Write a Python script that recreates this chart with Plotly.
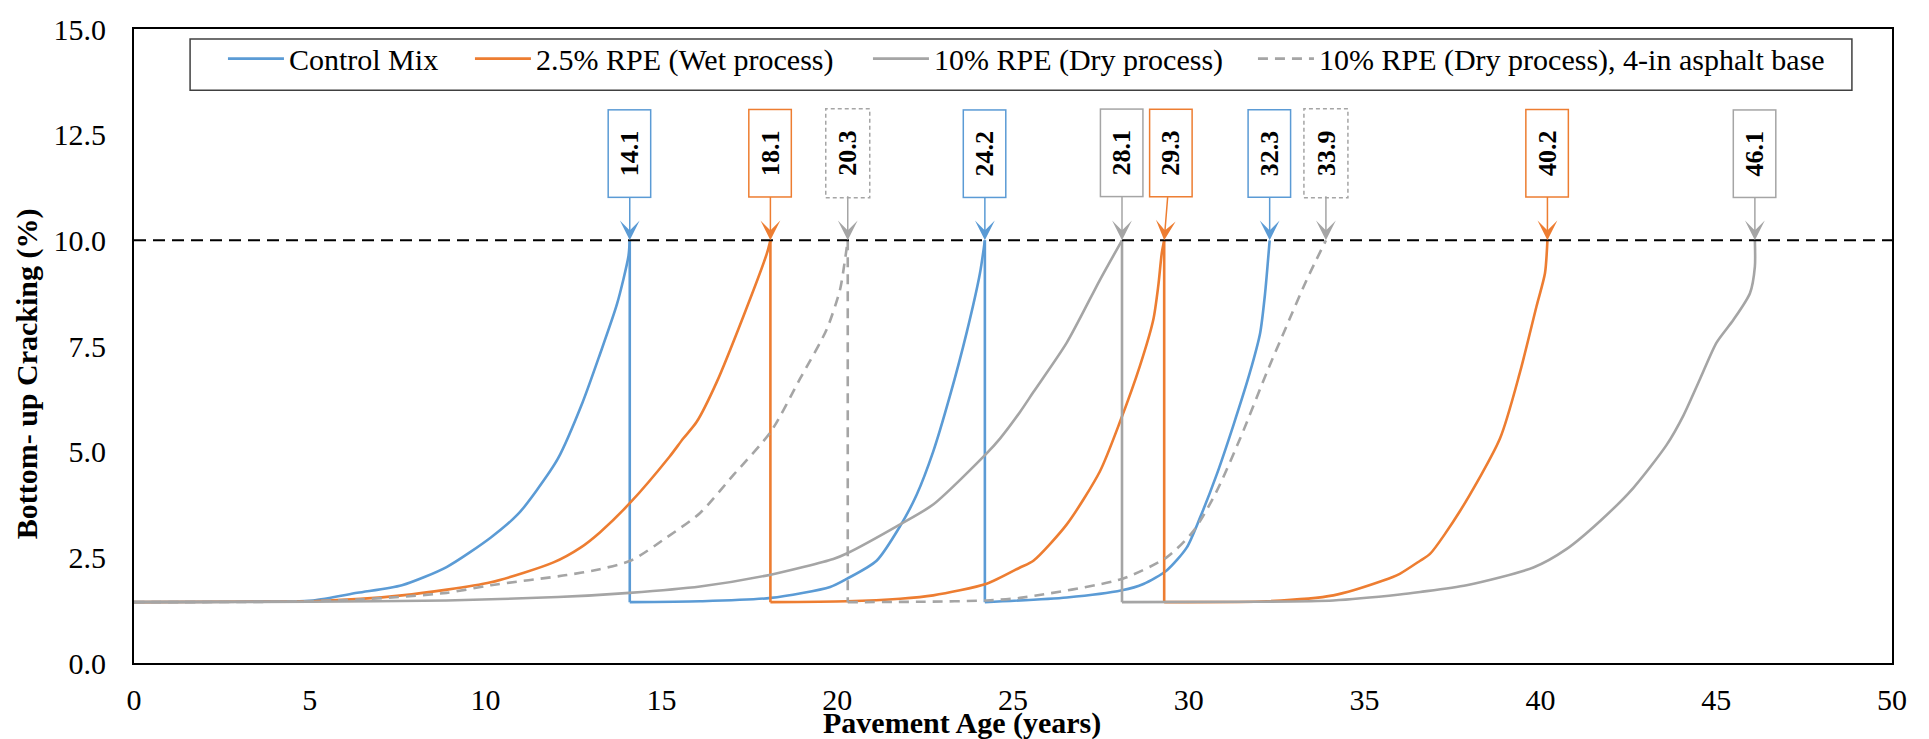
import plotly.graph_objects as go

# Pavement age (years) and bottom-up cracking (%) for each mix.
# Each curve restarts at the baseline once it reaches the 10 % limit.
control_age = [0, 3, 5.08, 6.35, 7.62, 8.89, 10.15, 10.92, 11.43, 12.06, 12.76, 13.25, 13.74, 14.06, 14.1,
               14.1, 16.1, 18.11, 19.8, 20.27, 21.12, 21.79, 22.26, 22.73, 23.21, 23.68, 24.06, 24.2,
               24.2, 26.53, 28.1, 28.71, 29.37, 29.94, 30.32, 30.79, 31.27, 31.74, 32.03, 32.17, 32.25, 32.3]
control_crack = [1.44, 1.45, 1.48, 1.66, 1.84, 2.27, 2.97, 3.52, 4.06, 4.84, 6.17, 7.30, 8.5, 9.61, 10.0,
                 1.44, 1.46, 1.54, 1.80, 1.99, 2.42, 3.24, 3.98, 5.0, 6.33, 7.81, 9.22, 10.0,
                 1.44, 1.55, 1.72, 1.87, 2.19, 2.73, 3.44, 4.45, 5.63, 6.88, 7.81, 8.75, 9.5, 10.0]

wet_age = [0, 3, 5.08, 7.62, 10.15, 11.93, 12.7, 13.25, 14.1, 15.23, 15.62, 16.0, 16.57, 17.33, 18.0, 18.1,
           18.1, 20.27, 21.79, 22.73, 24.25, 25.2, 25.58, 26.53, 27.47, 28.04, 28.61, 28.99, 29.13, 29.23, 29.3,
           29.3, 32.22, 34.11, 35.53, 36.0, 36.58, 36.86, 37.71, 38.85, 39.42, 39.89, 40.13, 40.2]
wet_crack = [1.44, 1.45, 1.46, 1.60, 1.91, 2.38, 2.73, 3.09, 3.78, 4.88, 5.31, 5.70, 6.64, 8.20, 9.69, 10.0,
             1.44, 1.46, 1.52, 1.60, 1.875, 2.26, 2.42, 3.28, 4.53, 5.70, 7.03, 8.12, 8.91, 9.69, 10.0,
             1.44, 1.46, 1.60, 1.95, 2.11, 2.42, 2.58, 3.59, 5.31, 6.88, 8.44, 9.22, 10.0]

dry_age = [0, 5, 8.89, 12.06, 14.09, 16.1, 18.11, 19.89, 20.27, 21.79, 22.73, 24.25, 24.63, 25.2, 25.58,
           26.53, 27.47, 28.1,
           28.1, 32.0, 34.11, 36.0, 36.58, 37.9, 39.8, 40.75, 41.7, 42.64, 43.59, 44.07, 44.54, 45.01,
           45.49, 45.96, 46.1, 46.1]
dry_crack = [1.44, 1.45, 1.48, 1.56, 1.66, 1.81, 2.09, 2.46, 2.59, 3.28, 3.75, 4.96, 5.31, 5.94, 6.41,
             7.58, 9.06, 10.0,
             1.44, 1.45, 1.48, 1.62, 1.68, 1.84, 2.26, 2.70, 3.36, 4.14, 5.16, 5.86, 6.72, 7.58,
             8.12, 8.75, 9.38, 10.0]

base_age = [0, 4, 6.35, 8.89, 10.15, 12.31, 13.25, 14.15, 15.15, 16.1, 17.05, 18.11, 18.94, 19.7, 20.08,
            20.22, 20.3,
            20.3, 22.5, 24.25, 25.2, 28.1, 29.37, 30.13, 30.79, 31.46, 32.22, 32.78, 33.35, 33.9]
base_crack = [1.44, 1.45, 1.50, 1.66, 1.84, 2.08, 2.22, 2.43, 2.97, 3.55, 4.45, 5.47, 6.72, 7.89, 8.83,
              9.53, 10.0,
              1.44, 1.45, 1.48, 1.54, 1.99, 2.50, 3.12, 4.06, 5.31, 6.88, 7.97, 9.06, 10.0]

# Age at which each cycle reaches the 10 % threshold
control_life = [14.1, 24.2, 32.3]
wet_life = [18.1, 29.3, 40.2]
dry_life = [28.1, 46.1]
base_life = [20.3, 33.9]

threshold = 10.0

BLUE = "#5B9BD5"
ORANGE = "#ED7D31"
GRAY = "#A5A5A5"
SERIF = "Liberation Serif"


def split_cycles(xs, ys):
    """Smooth rising parts (gaps between cycles) and the vertical resets."""
    cx, cy, dx, dy = [], [], [], []
    for i, (x, y) in enumerate(zip(xs, ys)):
        if i > 0 and x == xs[i - 1] and y < ys[i - 1]:
            cx.append(None)
            cy.append(None)
            dx += [xs[i - 1], x, None]
            dy += [ys[i - 1], y, None]
        cx.append(x)
        cy.append(y)
    return cx, cy, dx, dy


fig = go.Figure()

series = [
    ("Control Mix", control_age, control_crack, BLUE, "solid", 176),
    ("2.5% RPE (Wet process)", wet_age, wet_crack, ORANGE, "solid", 327),
    ("10% RPE (Dry process)", dry_age, dry_crack, GRAY, "solid", 314),
    ("10% RPE (Dry process), 4-in asphalt base", base_age, base_crack, GRAY, "10px,7px", None),
]
for k, (name, xs, ys, color, dash, lw) in enumerate(series):
    cx, cy, dx, dy = split_cycles(xs, ys)
    kw = {"legendwidth": lw} if lw else {}
    line = dict(color=color, width=2.6, dash=dash)
    fig.add_trace(go.Scatter(
        x=cx, y=cy, mode="lines", name=name, legendgroup=f"g{k}",
        line=dict(**line, shape="spline", smoothing=0.7), connectgaps=False, **kw,
    ))
    fig.add_trace(go.Scatter(
        x=dx, y=dy, mode="lines", name=name, legendgroup=f"g{k}", showlegend=False,
        line=line, connectgaps=False, hoverinfo="skip",
    ))

# 10 % cracking limit
fig.add_shape(type="line", xref="x domain", x0=0, x1=1, yref="y", y0=threshold, y1=threshold,
              line=dict(color="black", width=2, dash="12px,7px"), layer="above")

# Legend frame
fig.add_shape(type="rect", xref="paper", yref="paper", x0=0.0319, x1=0.9772, y0=0.9032, y1=0.9844,
              line=dict(color="#404040", width=1.5), fillcolor="white", layer="above")

BOX_W, BOX_H, LIFT = 86, 41, 87


def label(value, color, dashed=False, shift=0):
    fig.add_annotation(
        x=value, y=threshold, xref="x", yref="y",
        text=f"{value:.1f}", textangle=-90,
        font=dict(family=SERIF, size=26, color="black", weight="bold"),
        showarrow=True, arrowhead=3, arrowsize=2.2, arrowwidth=1.5, arrowcolor=color,
        ax=shift, ay=-LIFT, standoff=0,
        width=BOX_W, height=BOX_H, borderpad=0,
        bgcolor="rgba(0,0,0,0)" if dashed else "white",
        bordercolor=color, borderwidth=0 if dashed else 1.5,
    )
    if dashed:
        fig.add_shape(
            type="rect", xref="x", yref="y", xsizemode="pixel", ysizemode="pixel",
            xanchor=value, yanchor=threshold,
            x0=shift - (BOX_H + 3) / 2, x1=shift + (BOX_H + 3) / 2,
            y0=LIFT - (BOX_W + 3) / 2, y1=LIFT + (BOX_W + 3) / 2,
            line=dict(color=GRAY, width=1.5, dash="4px,3px"), fillcolor="white", layer="above",
        )


for v in control_life:
    label(v, BLUE)
for v in wet_life:
    label(v, ORANGE, shift=7 if v == 29.3 else 0)
for v in dry_life:
    label(v, GRAY)
for v in base_life:
    label(v, GRAY, dashed=True)

axis_common = dict(
    showline=True, linecolor="black", linewidth=2, mirror=True,
    showgrid=False, zeroline=False,
    tickfont=dict(family=SERIF, size=30, color="black"),
    ticks="",
)

fig.update_xaxes(range=[0, 50], dtick=5, tick0=0, ticklabelstandoff=9, **axis_common)
fig.update_yaxes(range=[0, 15], dtick=2.5, tick0=0, tickformat=".1f", ticklabelstandoff=20, **axis_common)

fig.add_annotation(x=0.471, y=-0.095, xref="paper", yref="paper", showarrow=False,
                   text="Pavement Age (years)", xanchor="center", yanchor="middle",
                   font=dict(family=SERIF, size=30, color="black", weight="bold"))
fig.add_annotation(x=-0.061, y=0.4565, xref="paper", yref="paper", showarrow=False,
                   text="Bottom- up Cracking (%)", textangle=-90, xanchor="center", yanchor="middle",
                   font=dict(family=SERIF, size=30, color="black", weight="bold"))

fig.update_layout(
    width=1929, height=739,
    margin=dict(l=134, r=37, t=23, b=76),
    paper_bgcolor="white", plot_bgcolor="white",
    showlegend=True,
    legend=dict(
        orientation="h", x=0.0506, xanchor="left", y=0.9532, yanchor="middle",
        bgcolor="rgba(0,0,0,0)", borderwidth=0,
        font=dict(family=SERIF, size=30, color="black"),
        itemwidth=56, itemclick=False, itemdoubleclick=False,
    ),
)

fig.write_html("out.html")
